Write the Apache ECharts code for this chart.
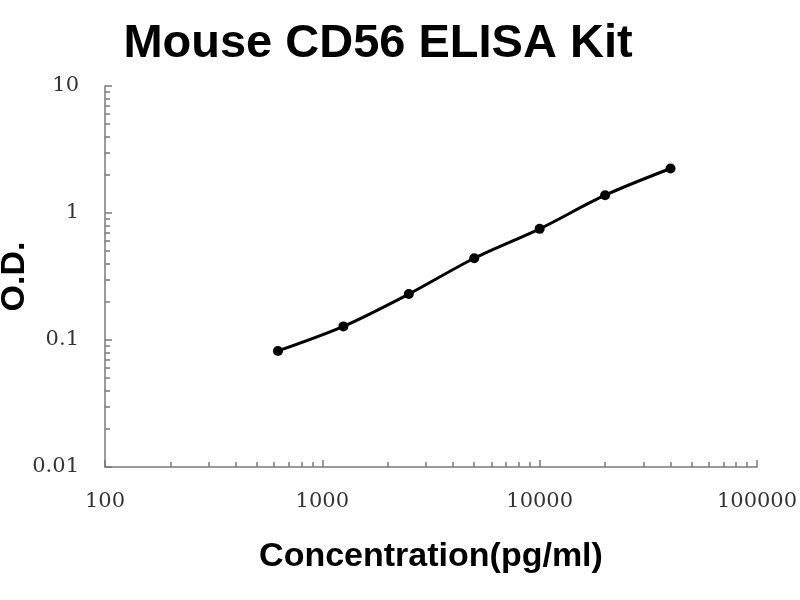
<!DOCTYPE html>
<html>
<head>
<meta charset="utf-8">
<script src="https://cdn.jsdelivr.net/npm/echarts@6/dist/echarts.min.js"></script>
<style>
  html, body { margin: 0; padding: 0; background: #fff; }
  #chart { width: 800px; height: 600px; }
</style>
</head>
<body>
<div id="chart"></div>
<script>
// standard curve values
let concentration = [625, 1250, 2500, 5000, 10000, 20000, 40000];
let od = [0.082, 0.128, 0.23, 0.44, 0.75, 1.38, 2.24];

let xTicks = [100, 1000, 10000, 100000];
let yTicks = [0.01, 0.1, 1, 10];
let minorSteps = [2, 3, 4, 5, 6, 7, 8, 9];

// minor ticks at 2..9 of every decade
function minorTicks(decades){
    let res = [];
    decades.forEach(function (d, i){
        if (i == decades.length - 1) return;
        minorSteps.forEach(function (m){ res.push(+(d * m).toPrecision(6)); });
    });
    return res;
}

let myChart = echarts.init(document.getElementById('chart'));
let axisGrey = '#7a7a7a';
let labelStyle = {
    fontFamily: 'DejaVu Serif',
    fontSize: 21,
    color: '#333',
    formatter: function (v){ return String(+v.toPrecision(6)); }
};
let nameStyle = { fontFamily: 'Liberation Sans', fontWeight: 'bold', fontSize: 34, color: '#000' };

let option = {
    backgroundColor: '#fff',
    animation: false,
    title: {
        text: 'Mouse CD56 ELISA Kit',
        left: 373,
        top: 16,
        textAlign: 'center',
        textStyle: { fontFamily: 'Liberation Sans', fontWeight: 'bold', fontSize: 47, color: '#000' }
    },
    grid: { left: 105, right: 43, top: 86, bottom: 133, outerBoundsMode: 'none' },
    xAxis: [
        {
            type: 'log',
            logBase: 10,
            min: 100,
            max: 100000,
            name: 'Concentration(pg/ml)',
            nameLocation: 'middle',
            nameGap: 73,
            nameMoveOverlap: false,
            nameTextStyle: nameStyle,
            axisLine: { lineStyle: { color: axisGrey, width: 1.5 } },
            axisTick: { inside: true, length: 7, customValues: xTicks, lineStyle: { color: axisGrey, width: 1.5 } },
            axisLabel: Object.assign({ margin: 24, customValues: xTicks }, labelStyle),
            splitLine: { show: false }
        },
        {
            type: 'log',
            logBase: 10,
            min: 100,
            max: 100000,
            position: 'bottom',
            offset: 0,
            axisLine: { show: false },
            axisTick: { inside: true, length: 5, customValues: minorTicks(xTicks), lineStyle: { color: axisGrey, width: 1.5 } },
            axisLabel: { show: false },
            splitLine: { show: false }
        }
    ],
    yAxis: [
        {
            type: 'log',
            logBase: 10,
            min: 0.01,
            max: 10,
            name: 'O.D.',
            nameLocation: 'middle',
            nameGap: 73,
            nameMoveOverlap: false,
            nameTextStyle: nameStyle,
            axisLine: { show: true, lineStyle: { color: axisGrey, width: 1.5 } },
            axisTick: { show: true, inside: true, length: 7, customValues: yTicks, lineStyle: { color: axisGrey, width: 1.5 } },
            axisLabel: Object.assign({ margin: 26, customValues: yTicks }, labelStyle),
            splitLine: { show: false }
        },
        {
            type: 'log',
            logBase: 10,
            min: 0.01,
            max: 10,
            position: 'left',
            offset: 0,
            axisLine: { show: false },
            axisTick: { show: true, inside: true, length: 5, customValues: minorTicks(yTicks), lineStyle: { color: axisGrey, width: 1.5 } },
            axisLabel: { show: false },
            splitLine: { show: false }
        }
    ],
    series: [
        {
            name: 'O.D.',
            type: 'line',
            xAxisIndex: 0,
            yAxisIndex: 0,
            data: concentration.map(function (c, i){ return [c, od[i]]; }),
            smooth: 0.3,
            symbol: 'circle',
            symbolSize: 10,
            itemStyle: { color: '#000' },
            lineStyle: { color: '#000', width: 3 }
        }
    ]
};

myChart.setOption(option);
</script>
</body>
</html>
